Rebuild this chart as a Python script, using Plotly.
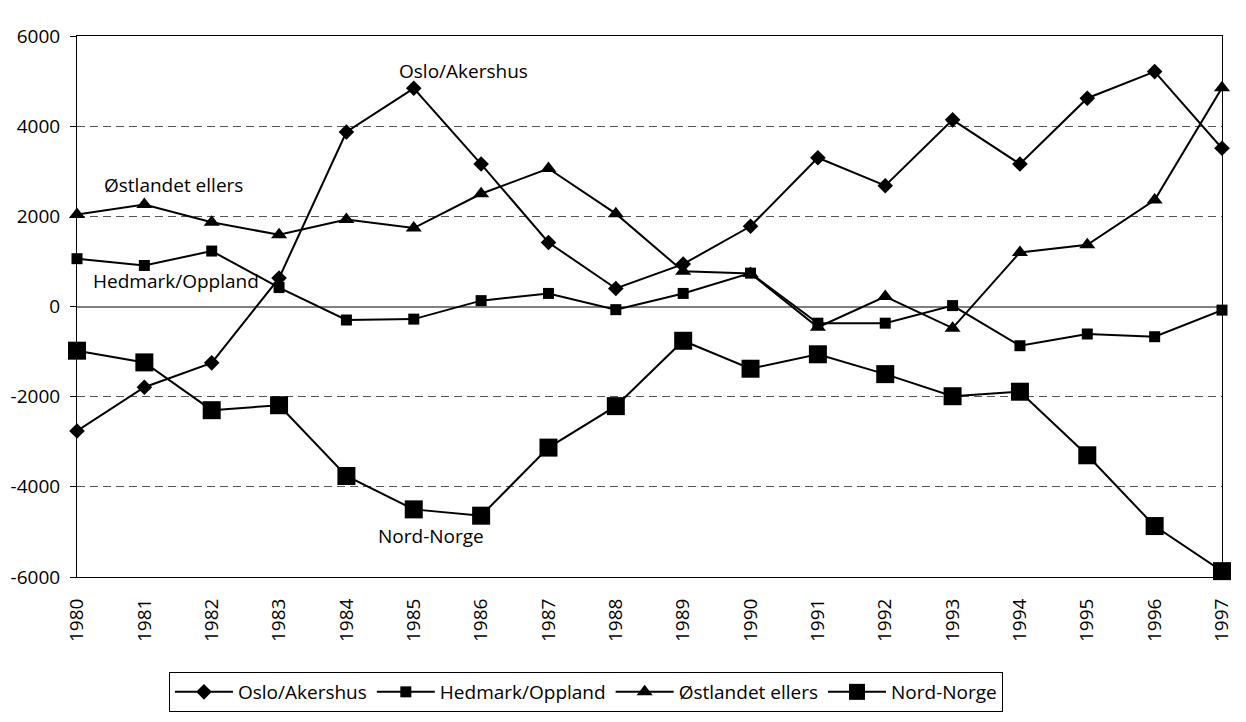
import plotly.graph_objects as go

years = list(range(1980, 1998))
oslo = [-2760, -1790, -1250, 630, 3870, 4840, 3160, 1420, 400, 940, 1780, 3300, 2680, 4140, 3160, 4620, 5210, 3510]
hedmark = [1060, 910, 1230, 420, -300, -280, 130, 290, -70, 290, 740, -370, -370, 20, -870, -610, -670, -80]
ostland = [2040, 2260, 1870, 1590, 1930, 1740, 2500, 3060, 2060, 780, 730, -460, 220, -480, 1200, 1370, 2360, 4850]
nord = [-980, -1240, -2300, -2190, -3760, -4500, -4640, -3130, -2210, -760, -1380, -1060, -1500, -1990, -1890, -3300, -4870, -5870]

series_names = ["Oslo/Akershus", "Hedmark/Oppland", "Østlandet ellers", "Nord-Norge"]
y_ticks = [-6000, -4000, -2000, 0, 2000, 4000, 6000]
y_ticktext = ["-6000", "-4000", "-2000", "0", "2000", "4000", "6000"]

FONT = "Open Sans"
fig = go.Figure()
specs = [
    (oslo, "diamond", 12),
    (hedmark, "square", 11),
    (ostland, "triangle-up", 14),
    (nord, "square", 18),
]
for name, (vals, sym, sz) in zip(series_names, specs):
    fig.add_trace(go.Scatter(
        x=years, y=vals, name=name, mode="lines+markers",
        line=dict(color="black", width=2),
        marker=dict(symbol=sym, size=sz, color="black"),
        cliponaxis=False,
    ))

labels = [
    ("Oslo/Akershus", 1985.74, 5222),
    ("Østlandet ellers", 1981.44, 2704),
    ("Hedmark/Oppland", 1981.47, 571),
    ("Nord-Norge", 1985.25, -5096),
]
for txt, x, y in labels:
    fig.add_annotation(x=x, y=y, text=txt, showarrow=False,
                       font=dict(family=FONT, size=19, color="black"))

fig.update_layout(
    width=1238, height=714,
    margin=dict(l=69, r=24, t=28, b=145, autoexpand=False),
    paper_bgcolor="white", plot_bgcolor="white",
    font=dict(family=FONT, size=19, color="black"),
    showlegend=True,
    legend=dict(orientation="h", x=0.4445, xanchor="center", y=-0.1756, yanchor="top",
                bordercolor="black", borderwidth=1, font=dict(family=FONT, size=19),
                itemsizing="trace", itemwidth=58),
    xaxis=dict(
        range=[1980, 1997], tickmode="array", tickvals=years,
        ticktext=[str(y) for y in years], tickangle=-90, ticklabelstandoff=13,
        showgrid=False, zeroline=False, showline=True, linecolor="black",
        linewidth=1, mirror=True, ticks="", automargin=False,
    ),
    xaxis2=dict(
        overlaying="x", matches="x", anchor="free", position=0.5,
        side="bottom", range=[1980, 1997], tickmode="array", tickvals=years,
        showticklabels=False, ticks="outside", ticklen=6, tickcolor="#666666",
        showgrid=False, zeroline=False, showline=False, automargin=False,
    ),
    xaxis3=dict(
        overlaying="x", matches="x", anchor="free", position=0.5,
        side="top", range=[1980, 1997], tickmode="array", tickvals=years,
        showticklabels=False, ticks="outside", ticklen=6, tickcolor="#666666",
        showgrid=False, zeroline=False, showline=False, automargin=False,
    ),
    yaxis=dict(
        range=[-6000, 6000], tickmode="array", tickvals=y_ticks, ticktext=y_ticktext,
        ticks="outside", ticklen=6, tickcolor="black", ticklabelstandoff=6,
        showgrid=True, gridcolor="#555555", griddash="8px,5px", gridwidth=1,
        zeroline=True, zerolinecolor="#808080", zerolinewidth=2,
        showline=True, linecolor="black", linewidth=1, mirror=True, automargin=False,
    ),
)
fig.write_html("out.html")
